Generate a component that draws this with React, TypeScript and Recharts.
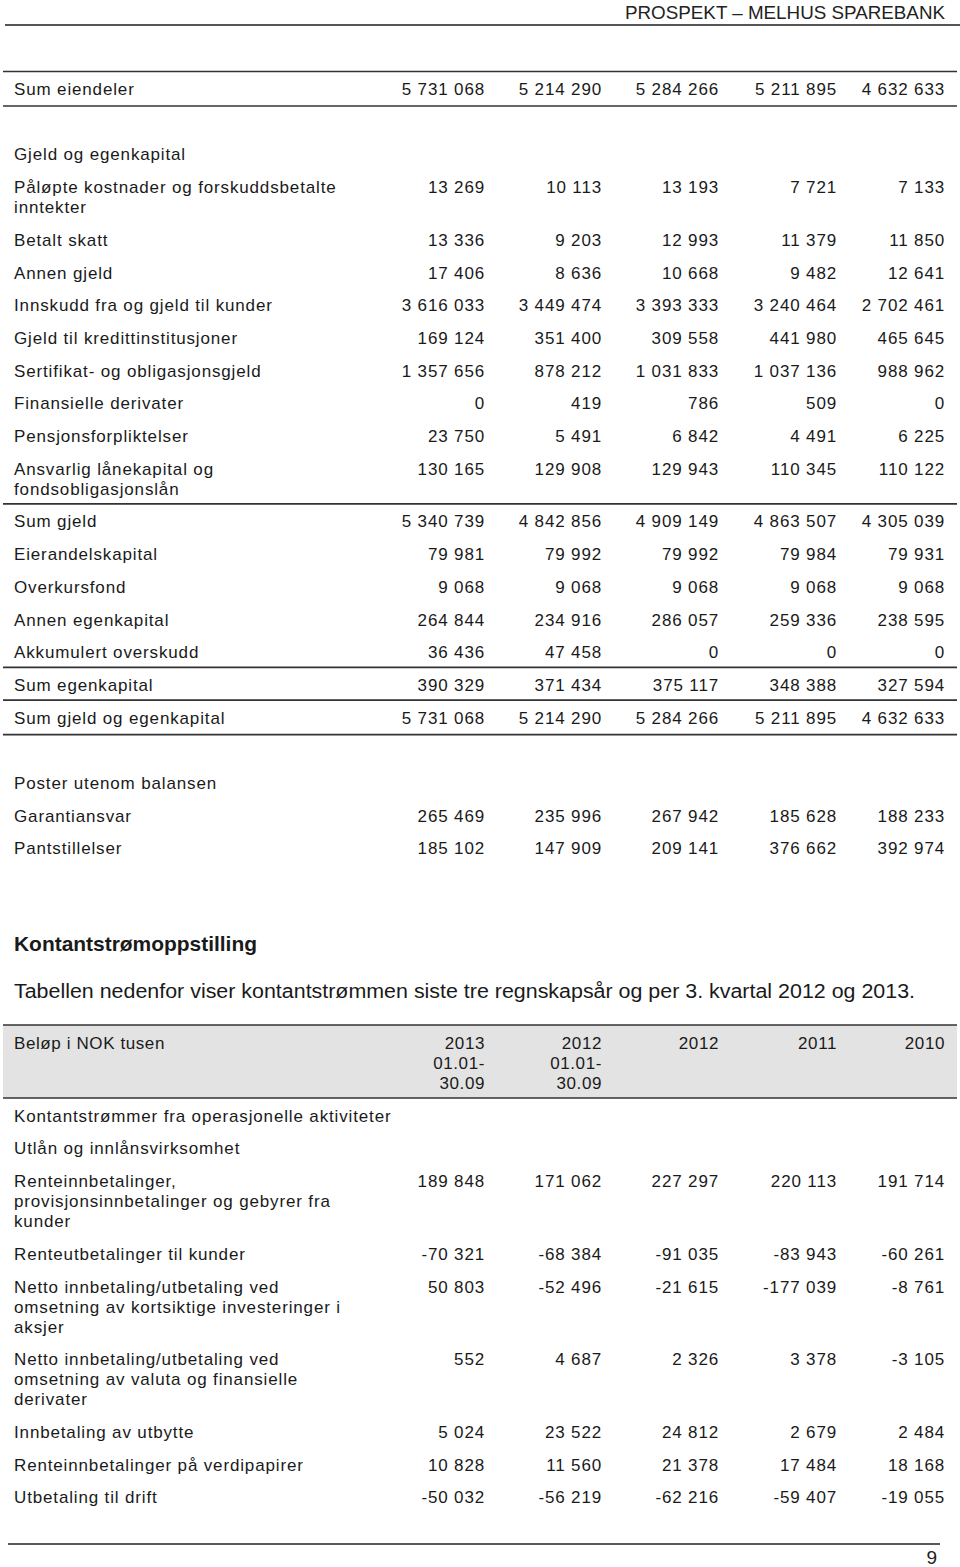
import React from 'react';
import { ComposedChart, XAxis, YAxis, Scatter, ReferenceLine, ReferenceArea } from 'recharts';

// ---------- DATA ----------
const pageHeader = 'PROSPEKT – MELHUS SPAREBANK';
const pageNumber = '9';

const balanceLabels = [
  'Sum eiendeler',
  '',
  'Gjeld og egenkapital',
  'Påløpte kostnader og forskuddsbetalte\ninntekter',
  'Betalt skatt',
  'Annen gjeld',
  'Innskudd fra og gjeld til kunder',
  'Gjeld til kredittinstitusjoner',
  'Sertifikat- og obligasjonsgjeld',
  'Finansielle derivater',
  'Pensjonsforpliktelser',
  'Ansvarlig lånekapital og\nfondsobligasjonslån',
  'Sum gjeld',
  'Eierandelskapital',
  'Overkursfond',
  'Annen egenkapital',
  'Akkumulert overskudd',
  'Sum egenkapital',
  'Sum gjeld og egenkapital',
  '',
  'Poster utenom balansen',
  'Garantiansvar',
  'Pantstillelser',
];
const bal2013Q3 = [5731068, null, null, 13269, 13336, 17406, 3616033, 169124, 1357656, 0, 23750, 130165, 5340739, 79981, 9068, 264844, 36436, 390329, 5731068, null, null, 265469, 185102];
const bal2012Q3 = [5214290, null, null, 10113, 9203, 8636, 3449474, 351400, 878212, 419, 5491, 129908, 4842856, 79992, 9068, 234916, 47458, 371434, 5214290, null, null, 235996, 147909];
const bal2012 = [5284266, null, null, 13193, 12993, 10668, 3393333, 309558, 1031833, 786, 6842, 129943, 4909149, 79992, 9068, 286057, 0, 375117, 5284266, null, null, 267942, 209141];
const bal2011 = [5211895, null, null, 7721, 11379, 9482, 3240464, 441980, 1037136, 509, 4491, 110345, 4863507, 79984, 9068, 259336, 0, 348388, 5211895, null, null, 185628, 376662];
const bal2010 = [4632633, null, null, 7133, 11850, 12641, 2702461, 465645, 988962, 0, 6225, 110122, 4305039, 79931, 9068, 238595, 0, 327594, 4632633, null, null, 188233, 392974];

const cashTitle = 'Kontantstrømoppstilling';
const cashIntro = 'Tabellen nedenfor viser kontantstrømmen siste tre regnskapsår og per 3. kvartal 2012 og 2013.';
const cashHeaderLabel = 'Beløp i NOK tusen';
const cashHeaders = ['2013\n01.01-\n30.09', '2012\n01.01-\n30.09', '2012', '2011', '2010'];
const cashLabels = [
  'Kontantstrømmer fra operasjonelle aktiviteter',
  'Utlån og innlånsvirksomhet',
  'Renteinnbetalinger,\nprovisjonsinnbetalinger og gebyrer fra\nkunder',
  'Renteutbetalinger til kunder',
  'Netto innbetaling/utbetaling ved\nomsetning av kortsiktige investeringer i\naksjer',
  'Netto innbetaling/utbetaling ved\nomsetning av valuta og finansielle\nderivater',
  'Innbetaling av utbytte',
  'Renteinnbetalinger på verdipapirer',
  'Utbetaling til drift',
];
const cash2013Q3 = [null, null, 189848, -70321, 50803, 552, 5024, 10828, -50032];
const cash2012Q3 = [null, null, 171062, -68384, -52496, 4687, 23522, 11560, -56219];
const cash2012 = [null, null, 227297, -91035, -21615, 2326, 24812, 21378, -62216];
const cash2011 = [null, null, 220113, -83943, -177039, 3378, 2679, 17484, -59407];
const cash2010 = [null, null, 191714, -60261, -8761, -3105, 2484, 18168, -19055];

// ---------- LAYOUT ----------
const W = 960;
const H = 1567;
const ROW = 32.7;
const LINE = 20;
const LABEL_X = 14;
const COL_RIGHT = [485, 602, 719, 837, 945];
const BAL_START = 95;
const CASH_START = 1049;
const RULE_LEFT = 3;
const RULE_RIGHT = 957;
const rulesAbove = ['Sum eiendeler', 'Sum gjeld', 'Sum egenkapital', 'Sum gjeld og egenkapital'];
const rulesBelow = ['Sum eiendeler', 'Sum gjeld og egenkapital'];

const BODY_FONT = "'Liberation Sans', Arial, sans-serif";
const NARROW_FONT = "'Liberation Sans Narrow', 'Liberation Sans', Arial, sans-serif";
const TEXT_COLOR = '#1a1a1a';

const fmt = (v: number | null) => {
  if (v === null || v === undefined) return '';
  const s = Math.abs(v).toString().replace(/\B(?=(\d{3})+(?!\d))/g, ' ');
  return (v < 0 ? '-' : '') + s;
};

const nLines = (s: string) => (s ? s.split('\n').length : 1);

function rowPositions(labels: string[], start: number) {
  const ys: number[] = [];
  let y = start;
  labels.forEach((l) => {
    ys.push(y);
    y += ROW + LINE * (nLines(l) - 1);
  });
  return ys;
}

type Pt = { x: number; y: number; text: string; anchor: 'start' | 'end'; kind: string; len?: number };

const balY = rowPositions(balanceLabels, BAL_START);
const cashAll = [cashHeaderLabel + '\n\n', ...cashLabels];
const cashYAll = rowPositions(cashAll, CASH_START);
const cashHeadY = cashYAll[0];
const cashY = cashYAll.slice(1);

const labelPoints: Pt[] = [];
balanceLabels.forEach((l, i) => {
  if (!l) return;
  l.split('\n').forEach((t, j) => labelPoints.push({ x: LABEL_X, y: balY[i] + j * LINE, text: t, anchor: 'start', kind: 'body' }));
});
labelPoints.push({ x: LABEL_X, y: cashHeadY, text: cashHeaderLabel, anchor: 'start', kind: 'head' });
cashLabels.forEach((l, i) => {
  l.split('\n').forEach((t, j) => labelPoints.push({ x: LABEL_X, y: cashY[i] + j * LINE, text: t, anchor: 'start', kind: 'body' }));
});

const balCols = [bal2013Q3, bal2012Q3, bal2012, bal2011, bal2010];
const cashCols = [cash2013Q3, cash2012Q3, cash2012, cash2011, cash2010];

const columnPoints: Pt[][] = COL_RIGHT.map((xr, c) => {
  const pts: Pt[] = [];
  balCols[c].forEach((v, i) => {
    if (v === null) return;
    pts.push({ x: xr, y: balY[i], text: fmt(v), anchor: 'end', kind: 'body' });
  });
  cashHeaders[c].split('\n').forEach((t, j) => pts.push({ x: xr, y: cashHeadY + j * LINE, text: t, anchor: 'end', kind: 'head' }));
  cashCols[c].forEach((v, i) => {
    if (v === null) return;
    pts.push({ x: xr, y: cashY[i], text: fmt(v), anchor: 'end', kind: 'body' });
  });
  return pts;
});

const headingPoints: Pt[] = [
  { x: 625, y: 19, text: pageHeader, anchor: 'start', kind: 'page', len: 320 },
  { x: LABEL_X, y: 951, text: cashTitle, anchor: 'start', kind: 'title', len: 243 },
  { x: LABEL_X, y: 998, text: cashIntro, anchor: 'start', kind: 'intro', len: 901 },
  { x: 937, y: 1564, text: pageNumber, anchor: 'end', kind: 'page' },
];

const balRuleYs: number[] = [];
balanceLabels.forEach((l, i) => {
  if (rulesAbove.includes(l)) balRuleYs.push(balY[i] - 23.5);
  if (rulesBelow.includes(l)) balRuleYs.push(balY[i] + 11);
});
const boxTop = cashHeadY - 24;
const boxBottom = cashHeadY + 2 * LINE + 9;

// ---------- RENDER ----------
const TextShape = (props: any) => {
  const { cx, cy, payload } = props;
  const p: Pt = payload;
  const base: any = {
    x: cx,
    y: cy,
    textAnchor: p.anchor,
    fill: TEXT_COLOR,
    fontFamily: BODY_FONT,
    fontSize: 17,
    style: { letterSpacing: '0.85px' },
  };
  if (p.kind === 'head') {
    base.style = { letterSpacing: '0.6px' };
  } else if (p.kind === 'page') {
    base.fontFamily = NARROW_FONT;
    base.fontSize = 19;
    base.fill = '#222';
    base.style = {};
  } else if (p.kind === 'title') {
    base.fontFamily = NARROW_FONT;
    base.fontSize = 21;
    base.fontWeight = 'bold';
    base.style = {};
  } else if (p.kind === 'intro') {
    base.fontFamily = NARROW_FONT;
    base.fontSize = 20;
    base.style = {};
  }
  if (p.len) {
    base.textLength = p.len;
    base.lengthAdjust = 'spacingAndGlyphs';
  }
  return <text {...base}>{p.text}</text>;
};

export default function App() {
  return (
    <div style={{ position: 'absolute', left: 0, top: 0, width: W, height: H, background: '#fff' }}>
      <ComposedChart width={W} height={H} margin={{ top: 0, right: 0, bottom: 0, left: 0 }}>
        <XAxis type="number" dataKey="x" domain={[0, W]} allowDataOverflow hide />
        <YAxis type="number" dataKey="y" domain={[0, H]} allowDataOverflow reversed hide />
        <ReferenceArea x1={RULE_LEFT} x2={RULE_RIGHT} y1={boxTop} y2={boxBottom} fill="#e3e3e3" fillOpacity={1} stroke="none" ifOverflow="visible" />
        <ReferenceLine segment={[{ x: 5, y: 25 }, { x: W, y: 25 }]} stroke="#555" strokeWidth={2} ifOverflow="visible" />
        {balRuleYs.map((y, i) => (
          <ReferenceLine key={'r' + i} segment={[{ x: RULE_LEFT, y }, { x: RULE_RIGHT, y }]} stroke="#333" strokeWidth={1.6} ifOverflow="visible" />
        ))}
        <ReferenceLine segment={[{ x: RULE_LEFT, y: boxTop }, { x: RULE_RIGHT, y: boxTop }]} stroke="#333" strokeWidth={1.6} ifOverflow="visible" />
        <ReferenceLine segment={[{ x: RULE_LEFT, y: boxBottom }, { x: RULE_RIGHT, y: boxBottom }]} stroke="#333" strokeWidth={1.6} ifOverflow="visible" />
        <ReferenceLine segment={[{ x: 8, y: 1544 }, { x: 940, y: 1544 }]} stroke="#222" strokeWidth={1.4} ifOverflow="visible" />
        <Scatter data={labelPoints} shape={TextShape} isAnimationActive={false} />
        {columnPoints.map((pts, c) => (
          <Scatter key={'c' + c} data={pts} shape={TextShape} isAnimationActive={false} />
        ))}
        <Scatter data={headingPoints} shape={TextShape} isAnimationActive={false} />
      </ComposedChart>
    </div>
  );
}
